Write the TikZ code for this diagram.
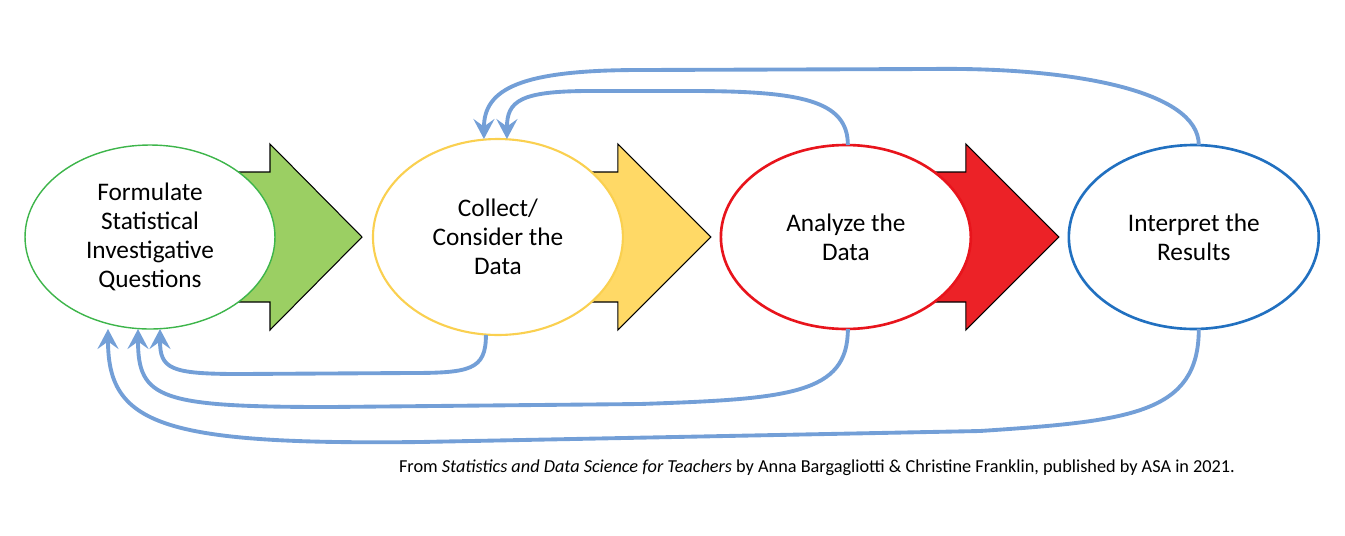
\documentclass[tikz,border=0pt]{standalone}
\usepackage{fontspec}
\setmainfont{Carlito}
\usetikzlibrary{arrows.meta, positioning, backgrounds, shapes.geometric, calc}
\definecolor{sdsgreen}{HTML}{9BCF63}
\definecolor{sdsgreenline}{HTML}{3DB54A}
\definecolor{sdsyellow}{HTML}{FFD966}
\definecolor{sdsyellowline}{HTML}{FAD050}
\definecolor{sdsred}{HTML}{EC2227}
\definecolor{sdsredline}{HTML}{E8141C}
\definecolor{sdsblueline}{HTML}{2170C0}
\definecolor{sdsloop}{HTML}{739FD7}
\tikzset{
  stage/.style={ellipse, minimum width=5cm, minimum height=3.68cm, inner sep=0pt, outer sep=0pt,
    fill=white, align=center, font=\fontsize{14.4}{16.4}\selectfont},
  blockarr/.style={draw=black, line width=0.6pt, line join=miter},
  loop/.style={-{Stealth[length=4mm, width=4.2mm, inset=1.5mm]}, line width=2.2pt, sdsloop},
  srcnote/.style={font=\fontsize{10.4}{12}\selectfont, inner sep=0pt},
}

\begin{document}
\begin{tikzpicture}[x=0.02cm, y=-0.02cm]
    \useasboundingbox (0,0) rectangle (1345,535);
    % the four stages
    \node[stage, draw=sdsgreenline, line width=0.8pt] (fq) at (150,237) {Formulate\\Statistical\\Investigative\\Questions};
    \node[stage, draw=sdsyellowline, line width=1.2pt, minimum height=3.92cm, right=1.96cm of fq] (cc) {Collect/\\Consider the\\Data};
    \node[stage, draw=sdsredline, line width=1.5pt, right=1.96cm of cc] (an) {Analyze the\\Data};
    \node[stage, draw=sdsblueline, line width=1.5pt, right=1.96cm of an] (ip) {Interpret the\\Results};
    % block arrows behind the stages
    \begin{scope}[on background layer]
      \filldraw[blockarr, fill=sdsgreen] ($(fq.center)+(0,-65)$) -- ++(120,0) -- ++(0,-28) -- ++(92,93) -- ++(-92,93) -- ++(0,-28) -- ++(-120,0) -- cycle;
      \filldraw[blockarr, fill=sdsyellow] ($(cc.center)+(0,-65)$) -- ++(120,0) -- ++(0,-28) -- ++(93,93) -- ++(-93,93) -- ++(0,-28) -- ++(-120,0) -- cycle;
      \filldraw[blockarr, fill=sdsred] ($(an.center)+(0,-65)$) -- ++(120,0) -- ++(0,-28) -- ++(93,93) -- ++(-93,93) -- ++(0,-28) -- ++(-120,0) -- cycle;
    \end{scope}
    % loops back to earlier stages
    \draw[loop] ($(an.north)+(2,0)$) .. controls +(0,-45) and +(110,0) .. (690,91) -- (590,91)
      .. controls +(-70,0) and +(0,-38) .. ($(cc.north)+(9,0)$);
    \draw[loop] ($(ip.north)+(5,0)$) .. controls +(0,-55) and +(140,-2) .. (930,69) -- (640,70)
      .. controls +(-120,0) and +(0,-50) .. ($(cc.north)+(-14,0)$);
    \draw[loop] ($(cc.south)+(-12,0)$) .. controls +(0,35) and +(60,0) .. (410,373) -- (240,374)
      .. controls +(-70,0) and +(0,40) .. ($(fq.south)+(10,0)$);
    \draw[loop] ($(an.south)+(2,0)$) .. controls +(0,65) and +(150,-5) .. (640,404) -- (330,407)
      .. controls +(-170,0) and +(0,70) .. ($(fq.south)+(-12,0)$);
    \draw[loop] ($(ip.south)+(5,0)$) .. controls +(0,85) and +(150,-10) .. (980,431) -- (420,442)
      .. controls +(-260,3) and +(0,95) .. ($(fq.south)+(-42,0)$);
    % source line
    \node[srcnote] (src) at (817,468) {From \textit{Statistics and Data Science for Teachers} by Anna Bargagliotti \& Christine Franklin, published by ASA in 2021.};
  \end{tikzpicture}
\end{document}
